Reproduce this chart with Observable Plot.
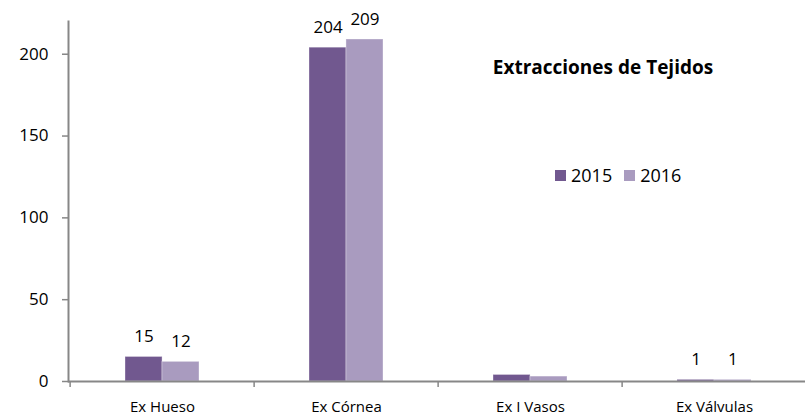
<!DOCTYPE html>
<html>
<head>
<meta charset="utf-8">
<script src="https://cdn.jsdelivr.net/npm/d3@7"></script>
<script src="https://cdn.jsdelivr.net/npm/@observablehq/plot@0.6"></script>
<style>
  body { margin: 0; background: #fff; font-family: "Open Sans", sans-serif; }
  #wrap { position: relative; width: 805px; height: 419px; }
  #title { position: absolute; left: 453px; width: 300px; top: 57px; text-align: center;
           font-size: 19px; font-weight: bold; line-height: 20px; color: #000; }
  #legend { position: absolute; left: 555px; top: 163px; height: 24px; display: flex; align-items: center;
            font-size: 18px; color: #000; }
  .sw { width: 11px; height: 11px; display: inline-block; margin-right: 5px; }
  .item { display: flex; align-items: center; margin-right: 12px; }
</style>
</head>
<body>
<div id="wrap">
  <div id="chart"></div>
  <div id="title"></div>
  <div id="legend"></div>
</div>
<script>
const categories = ["Ex Hueso", "Ex Córnea", "Ex I Vasos", "Ex Válvulas"];
const years = ["2015", "2016"];
const values2015 = [15, 204, 4, 1];
const values2016 = [12, 209, 3, 1];
const labels2015 = ["15", "204", null, "1"];
const labels2016 = ["12", "209", null, "1"];
const yTicks = [0, 50, 100, 150, 200];
const colors = ["#71588f", "#a99bbf"];
const title = "Extracciones de Tejidos";

const rows2015 = categories.map((c, i) => ({category: c, year: years[0], value: values2015[i], label: labels2015[i]}));
const rows2016 = categories.map((c, i) => ({category: c, year: years[1], value: values2016[i], label: labels2016[i]}));

const x0 = 68, x1 = 807;
const step = (x1 - x0) / categories.length;
const bw = step * 0.4;
const axisColor = "#878787";

const chart = Plot.plot({
  width: 805,
  height: 419,
  marginLeft: 68,
  marginRight: 0,
  marginTop: 21,
  marginBottom: 38,
  style: {fontFamily: "Open Sans, sans-serif", background: "transparent"},
  x: {domain: categories, range: [x0, x1], paddingInner: 0.6, paddingOuter: 0.3, label: null},
  y: {domain: [0, 220], label: null},
  marks: [
    Plot.barY(rows2015, {x: "category", y: "value", fill: colors[0], insetRight: bw / 2, stroke: "#fff", strokeOpacity: 0.35, strokeWidth: 1}),
    Plot.barY(rows2016, {x: "category", y: "value", fill: colors[1], insetLeft: bw / 2, stroke: "#fff", strokeOpacity: 0.35, strokeWidth: 1}),
    Plot.text(rows2015.filter(d => d.label != null), {x: "category", y: "value", text: "label", dx: -bw / 4, dy: -15, lineAnchor: "bottom", fontSize: 17, fill: "#000"}),
    Plot.text(rows2016.filter(d => d.label != null), {x: "category", y: "value", text: "label", dx: bw / 4, dy: -15, lineAnchor: "bottom", fontSize: 17, fill: "#000"}),
    Plot.frame({anchor: "left", stroke: axisColor, strokeWidth: 2}),
    Plot.ruleY([0], {stroke: axisColor, strokeWidth: 2}),
    Plot.axisY({ticks: yTicks, tickSize: 6, tickPadding: 14, stroke: axisColor, fill: "#000", fontSize: 17, label: null, strokeWidth: 1.5}),
    Plot.axisX({tickSize: 0, tickPadding: 20, fill: "#000", fontSize: 15, label: null}),
    Plot.axisX({tickSize: 6, tickFormat: () => "", dx: -step / 2, stroke: axisColor, strokeWidth: 1.5, label: null})
  ]
});
document.getElementById("chart").appendChild(chart);

document.getElementById("title").textContent = title;
const legend = document.getElementById("legend");
years.forEach((y, i) => {
  const item = document.createElement("span");
  item.className = "item";
  const sw = document.createElement("span");
  sw.className = "sw";
  sw.style.background = colors[i];
  item.appendChild(sw);
  item.appendChild(document.createTextNode(y));
  legend.appendChild(item);
});
</script>
</body>
</html>
